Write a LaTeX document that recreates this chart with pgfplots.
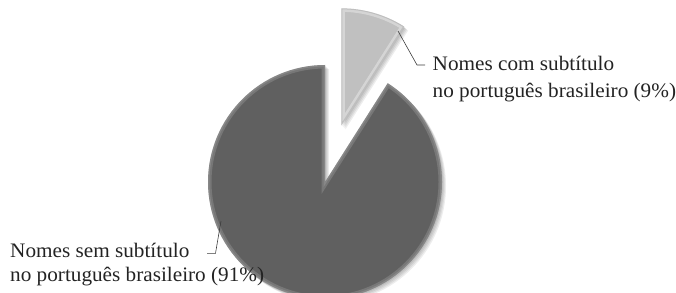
\documentclass[border=0pt]{standalone}
\usepackage{pgfplots}
\pgfplotsset{compat=1.18}
\usepackage{pgfplotstable}
\usepackage{fontspec}
\setmainfont{Liberation Serif}[FakeStretch=1.03]

\pgfplotstableread{
label value
com 9
sem 91
}\piedata

\definecolor{darkslice}{RGB}{96,96,96}
\definecolor{lightslice}{RGB}{192,192,192}
\definecolor{txt}{RGB}{35,35,35}
\definecolor{leader}{RGB}{60,60,60}

\begin{document}
\begin{tikzpicture}
\pgfplotstablegetelem{0}{value}\of\piedata \let\vcom\pgfplotsretval
\pgfplotstablegetelem{1}{value}\of\piedata \let\vsem\pgfplotsretval
\pgfmathsetmacro{\tot}{\vcom+\vsem}
\pgfmathsetmacro{\acom}{360*\vcom/\tot}
\pgfmathsetmacro{\aend}{90-\acom}
\pgfmathsetmacro{\amid}{90-\acom/2}
\pgfmathsetmacro{\adarkend}{\aend+360}
\pgfmathsetmacro{\lx}{325+59*cos(\amid)}
\pgfmathsetmacro{\ly}{110+59*sin(\amid)}
\def\R{117pt}
\def\darkpath{(axis cs:325,110) -- ++(90:\R) arc[start angle=90,end angle=\adarkend,radius=\R] -- cycle}
\def\lightpath{(axis cs:\lx,\ly) -- ++(\aend:\R) arc[start angle=\aend,end angle=90,radius=\R] -- cycle}
\begin{axis}[width=676pt,height=292pt,scale only axis,
  xmin=0,xmax=676,ymin=0,ymax=292,hide axis,clip=false]
\coordinate (bl) at (axis cs:0,0);
\coordinate (tr) at (axis cs:676,292);
\begin{scope}
\clip (axis cs:0,0) rectangle (axis cs:676,292);
% shadows
\fill[black,opacity=0.07,shift={(1pt,-1pt)}] \darkpath;
\fill[black,opacity=0.07,shift={(2pt,-2pt)}] \darkpath;
\fill[black,opacity=0.07,shift={(3pt,-3pt)}] \darkpath;
\fill[black,opacity=0.07,shift={(4pt,-4pt)}] \darkpath;
\fill[black,opacity=0.07,shift={(1pt,-1pt)}] \lightpath;
\fill[black,opacity=0.07,shift={(2pt,-2pt)}] \lightpath;
\fill[black,opacity=0.07,shift={(3pt,-3pt)}] \lightpath;
\fill[black,opacity=0.07,shift={(4pt,-4pt)}] \lightpath;
\fill[darkslice] \darkpath;
\fill[lightslice] \lightpath;
% bevel rims
\begin{scope}
\clip \darkpath;
\draw[white,opacity=0.15,line width=7pt] \darkpath;
\draw[white,opacity=0.12,line width=3pt] \darkpath;
\end{scope}
\begin{scope}
\clip \lightpath;
\draw[white,opacity=0.35,line width=7pt] \lightpath;
\draw[black,opacity=0.10,line width=2pt] \lightpath;
\end{scope}
\end{scope}
% leaders
\draw[leader,line width=0.6pt] (axis cs:398,261) -- (axis cs:417,227) -- (axis cs:425,227);
\draw[leader,line width=0.6pt] (axis cs:221,71) -- (axis cs:215.5,38.7) -- (axis cs:207,38.7);
% labels
\node[anchor=base west,inner sep=0pt,text=txt,font=\fontsize{20.6}{24}\selectfont] at (axis cs:432.5,221) {Nomes com subtítulo};
\node[anchor=base west,inner sep=0pt,text=txt,font=\fontsize{20.6}{24}\selectfont] at (axis cs:432.5,194.5) {no português brasileiro (9\%)};
\node[anchor=base west,inner sep=0pt,text=txt,font=\fontsize{20.6}{24}\selectfont] at (axis cs:10,35) {Nomes sem subtítulo};
\node[anchor=base west,inner sep=0pt,text=txt,font=\fontsize{20.6}{24}\selectfont] at (axis cs:10,10.5) {no português brasileiro (91\%)};
\end{axis}
\pgfresetboundingbox
\useasboundingbox (bl) rectangle (tr);
\end{tikzpicture}
\end{document}
